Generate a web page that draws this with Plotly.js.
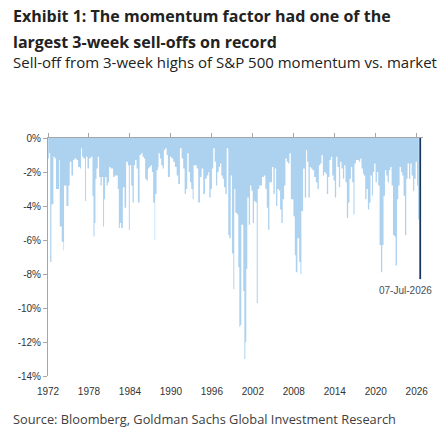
<!DOCTYPE html>
<html>
<head>
<meta charset="utf-8">
<script src="https://cdn.plot.ly/plotly-3.0.1.min.js"></script>
<style>
  html, body { margin: 0; padding: 0; background: #ffffff; }
  #chart { width: 440px; height: 427px; }
</style>
</head>
<body>
<div id="chart"></div>
<script>
// Sell-off from 3-week highs of S&P 500 momentum vs. market (% , by decimal year)
const years1970s = [1972.03, 1972.15, 1972.32, 1972.50, 1972.65, 1972.79, 1972.98,
  1973.17, 1973.38, 1973.61, 1973.72, 1973.86,
  1974.01, 1974.11, 1974.26, 1974.35, 1974.49, 1974.70, 1974.85, 1974.99,
  1975.18, 1975.43, 1975.67, 1975.87,
  1976.17, 1976.40, 1976.69, 1976.84, 1976.99,
  1977.19, 1977.43, 1977.57, 1977.78,
  1978.01, 1978.26, 1978.51, 1978.66, 1978.81, 1978.95,
  1979.10, 1979.29, 1979.48, 1979.69, 1979.88];
const selloff1970s = [-1.2, -1.2, -0.9, -7.3, -3.9, -3.9, -1.1,
  -1.2, -3.0, -3.0, -1.3, -5.2,
  -5.2, -6.1, -6.1, -6.6, -2.8, -2.8, -4.0, -4.0,
  -2.8, -1.4, -2.2, -1.3,
  -1.2, -1.3, -1.7, -1.8, -0.6,
  -1.1, -1.2, -3.7, -1.1,
  -1.8, -1.2, -1.1, -3.4, -5.8, -5.0,
  -2.4, -1.8, -1.1, -2.3, -2.8];

const years1980s = [1980.07, 1980.21, 1980.36, 1980.57, 1980.76, 1980.95,
  1981.15, 1981.34, 1981.53, 1981.74, 1981.97,
  1982.22, 1982.37, 1982.52, 1982.71, 1982.96,
  1983.21, 1983.44, 1983.69, 1983.84, 1983.98,
  1984.18, 1984.38, 1984.57, 1984.76, 1984.97,
  1985.16, 1985.41, 1985.64, 1985.85,
  1986.04, 1986.23, 1986.43, 1986.63, 1986.82,
  1987.02, 1987.21, 1987.40, 1987.61, 1987.70, 1987.90,
  1988.09, 1988.19, 1988.39, 1988.58, 1988.78, 1988.97,
  1989.16, 1989.37, 1989.56, 1989.85];
const selloff1980s = [-2.3, -5.2, -3.6, -2.3, -2.8, -2.6,
  -1.7, -1.8, -1.8, -2.3, -2.2,
  -2.2, -3.0, -5.3, -5.0, -5.3,
  -2.9, -4.1, -1.4, -1.6, -5.4,
  -1.6, -2.8, -3.8, -1.6, -1.3,
  -1.8, -3.8, -1.0, -0.9,
  -1.1, -1.2, -2.4, -2.5, -1.8,
  -1.7, -1.6, -2.0, -3.8, -6.0, -3.3,
  -1.9, -1.7, -0.9, -1.2, -1.6, -1.8,
  -0.7, -0.6, -1.0, -2.3];

const years1990s = [1990.10, 1990.34, 1990.59, 1990.84,
  1991.07, 1991.32, 1991.57, 1991.80,
  1992.01, 1992.20, 1992.39, 1992.60, 1992.79, 1992.98,
  1993.18, 1993.33, 1993.52, 1993.77,
  1994.00, 1994.25, 1994.50, 1994.74, 1994.99,
  1995.24, 1995.47, 1995.62, 1995.82,
  1996.01, 1996.20, 1996.41, 1996.60, 1996.79,
  1997.00, 1997.19, 1997.38, 1997.58, 1997.77, 1997.96,
  1998.17, 1998.40, 1998.55, 1998.76, 1998.95,
  1999.14, 1999.28, 1999.43, 1999.68, 1999.87];
const selloff1990s = [-1.1, -1.2, -1.4, -1.7,
  -2.2, -2.7, -0.6, -1.2,
  -1.8, -3.3, -3.0, -0.9, -2.0, -2.6,
  -3.0, -3.6, -1.6, -1.6,
  -1.8, -3.8, -2.3, -1.8, -3.3,
  -2.4, -2.2, -2.0, -3.5,
  -3.0, -1.8, -0.6, -1.4, -2.8,
  -2.0, -1.7, -1.5, -2.2, -2.4, -2.9,
  -3.3, -0.6, -5.7, -5.9, -2.2,
  -6.8, -8.9, -3.0, -4.4, -4.5];

const years2000s = [2000.02, 2000.16, 2000.31, 2000.46, 2000.60, 2000.75, 2000.90,
  2001.04, 2001.19, 2001.40, 2001.59, 2001.78, 2001.98,
  2002.17, 2002.37, 2002.57, 2002.72, 2002.95,
  2003.16, 2003.35, 2003.60, 2003.83,
  2004.04, 2004.23, 2004.42, 2004.62, 2004.81,
  2005.01, 2005.21, 2005.40, 2005.59, 2005.80, 2005.99,
  2006.18, 2006.38, 2006.58, 2006.77, 2006.97,
  2007.16, 2007.35, 2007.56, 2007.75, 2007.94,
  2008.14, 2008.29, 2008.53, 2008.78, 2008.97,
  2009.11, 2009.36, 2009.61, 2009.80, 2009.95];
const selloff2000s = [-7.6, -11.1, -11.0, -5.1, -5.1, -9.0, -13.0,
  -12.0, -7.7, -3.5, -5.1, -2.8, -3.1,
  -5.0, -3.7, -3.8, -9.7, -3.0,
  -2.8, -2.8, -2.3, -2.2,
  -3.0, -4.1, -5.4, -2.6, -2.6,
  -1.7, -3.3, -1.8, -4.0, -3.0, -3.1,
  -4.2, -5.0, -3.6, -2.8, -1.2,
  -1.4, -1.5, -0.9, -3.6, -3.6,
  -4.6, -6.9, -7.9, -5.9, -7.3,
  -8.0, -4.3, -1.8, -3.5, -0.7];

const years2010s = [2010.14, 2010.34, 2010.54, 2010.73, 2010.98,
  2011.23, 2011.46, 2011.67, 2011.86,
  2012.05, 2012.25, 2012.44, 2012.63, 2012.84,
  2013.03, 2013.22, 2013.43, 2013.62, 2013.81,
  2014.01, 2014.20, 2014.39, 2014.60, 2014.79, 2014.98,
  2015.19, 2015.38, 2015.57, 2015.77, 2015.96,
  2016.15, 2016.36, 2016.55, 2016.74, 2016.89,
  2017.09, 2017.33, 2017.53, 2017.72, 2017.91,
  2018.12, 2018.27, 2018.46, 2018.65, 2018.85,
  2019.04, 2019.23, 2019.44, 2019.59, 2019.78, 2019.97];
const selloff2010s = [-1.4, -3.5, -1.7, -1.8, -1.9,
  -2.3, -2.6, -3.0, -1.6,
  -1.5, -1.0, -2.2, -2.0, -2.1,
  -3.3, -2.3, -1.3, -1.1, -2.2,
  -2.5, -3.5, -1.1, -1.7, -2.9, -1.4,
  -1.8, -2.4, -1.6, -2.6, -4.7,
  -3.8, -2.4, -1.7, -2.6, -4.5,
  -1.5, -1.3, -1.3, -1.4, -1.2,
  -1.8, -2.1, -2.2, -3.6, -3.0,
  -4.2, -3.8, -2.2, -3.4, -2.0, -1.5];

const years2020s = [2020.17, 2020.36, 2020.56, 2020.76, 2020.95,
  2021.14, 2021.35, 2021.54, 2021.73, 2021.93,
  2022.12, 2022.32, 2022.52, 2022.71, 2022.90,
  2023.11, 2023.30, 2023.49, 2023.69, 2023.88,
  2024.07, 2024.28, 2024.47, 2024.66, 2024.87,
  2025.06, 2025.25, 2025.45, 2025.64, 2025.84,
  2026.04, 2026.19, 2026.31];
const selloff2020s = [-2.6, -2.0, -2.8, -6.3, -7.9,
  -6.3, -3.4, -1.9, -2.2, -2.6,
  -1.9, -1.7, -2.8, -5.7, -5.8,
  -7.5, -3.6, -2.8, -1.7, -2.0,
  -2.2, -3.4, -5.7, -2.4, -1.5,
  -2.4, -1.5, -2.2, -3.1, -2.4,
  -1.4, -2.8, -4.8];

// Latest reading, highlighted in navy
const latestDate = '2026-07-07';
const latestLabel = '07-Jul-2026';
const latestSelloff = -8.3;

// Axis ticks
const yearTicks = [1972, 1978, 1984, 1990, 1996, 2002, 2008, 2014, 2020, 2026];
const yearTickText = ['1972', '1978', '1984', '1990', '1996', '2002', '2008', '2014', '2020', '2026'];
const pctTicks = [0, -2, -4, -6, -8, -10, -12, -14];
const pctTickText = ['0%', '-2%', '-4%', '-6%', '-8%', '-10%', '-12%', '-14%'];

const years = [].concat(years1970s, years1980s, years1990s, years2000s, years2010s, years2020s);
const selloff = [].concat(selloff1970s, selloff1980s, selloff1990s, selloff2000s, selloff2010s, selloff2020s);

// decimal year of the latest date
function decimalYear(iso) {
  const d = new Date(iso + 'T00:00:00Z');
  const y = d.getUTCFullYear();
  const start = Date.UTC(y, 0, 1), end = Date.UTC(y + 1, 0, 1);
  return y + (d.getTime() - start) / (end - start);
}
const latestX = decimalYear(latestDate);

const axisGrey = '#A6A6A6';
const tickFont = { family: 'Liberation Sans, Arial, sans-serif', size: 10, color: '#333333' };
const headFont = 'Open Sans, sans-serif';

const traces = [
  {
    type: 'scatter',
    mode: 'lines',
    x: years,
    y: selloff,
    line: { shape: 'vh', width: 0, color: '#ADD2F0' },
    fill: 'tozeroy',
    fillcolor: '#ADD2F0',
    hoverinfo: 'skip'
  },
  {
    type: 'bar',
    x: [latestX],
    y: [latestSelloff],
    xaxis: 'x2',
    width: 0.26,
    marker: { color: '#17375E', line: { width: 0 } },
    hoverinfo: 'skip'
  }
];

const layout = {
  width: 440,
  height: 427,
  margin: { l: 48, r: 17, t: 138, b: 51 },
  paper_bgcolor: '#ffffff',
  plot_bgcolor: '#ffffff',
  showlegend: false,
  xaxis: {
    range: [1972, 2026.92],
    tickvals: yearTicks,
    ticktext: yearTickText,
    ticks: 'outside',
    ticklen: 6,
    tickcolor: 'rgba(0,0,0,0)',
    showline: false,
    showgrid: false,
    zeroline: false,
    tickfont: tickFont,
    fixedrange: true
  },
  xaxis2: {
    overlaying: 'x',
    matches: 'x',
    side: 'top',
    anchor: 'y',
    range: [1972, 2026.92],
    tickvals: yearTicks,
    showticklabels: false,
    ticks: 'outside',
    ticklen: 4,
    tickcolor: axisGrey,
    showline: true,
    linecolor: axisGrey,
    linewidth: 1,
    showgrid: false,
    zeroline: false,
    fixedrange: true
  },
  yaxis: {
    range: [-14, 0],
    tickvals: pctTicks,
    ticktext: pctTickText,
    ticks: 'outside',
    ticklen: 4,
    tickcolor: axisGrey,
    showline: true,
    linecolor: axisGrey,
    linewidth: 1,
    showgrid: false,
    zeroline: false,
    tickfont: tickFont,
    fixedrange: true
  },
  annotations: [
    {
      text: '<b>Exhibit 1: The momentum factor had one of the</b>',
      xref: 'paper', yref: 'paper', x: -0.099, y: 1.511,
      xanchor: 'left', yanchor: 'middle', showarrow: false,
      font: { family: headFont, size: 16, color: '#222222' }
    },
    {
      text: '<b>largest 3-week sell-offs on record</b>',
      xref: 'paper', yref: 'paper', x: -0.099, y: 1.402,
      xanchor: 'left', yanchor: 'middle', showarrow: false,
      font: { family: headFont, size: 16, color: '#222222' }
    },
    {
      text: 'Sell-off from 3-week highs of S&P 500 momentum vs. market',
      xref: 'paper', yref: 'paper', x: -0.099, y: 1.320,
      xanchor: 'left', yanchor: 'middle', showarrow: false,
      font: { family: headFont, size: 15, color: '#222222' }
    },
    {
      text: 'Source: Bloomberg, Goldman Sachs Global Investment Research',
      xref: 'paper', yref: 'paper', x: -0.099, y: -0.18,
      xanchor: 'left', yanchor: 'middle', showarrow: false,
      font: { family: headFont, size: 12.8, color: '#404040' }
    },
    {
      text: latestLabel,
      xref: 'x', yref: 'y', x: latestX, y: latestSelloff,
      xanchor: 'right', yanchor: 'top', xshift: 14, yshift: -4,
      showarrow: false,
      font: { family: 'Liberation Sans, Arial, sans-serif', size: 10, color: '#3F4F60' }
    }
  ]
};

Plotly.newPlot('chart', traces, layout, { staticPlot: true, displayModeBar: false });
</script>
</body>
</html>
